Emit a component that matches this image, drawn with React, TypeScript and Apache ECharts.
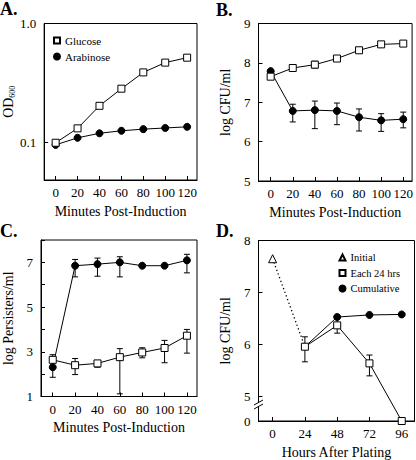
import React, { useEffect, useRef } from "react";
import * as echarts from "echarts";

const FONT = "'Liberation Serif', 'Times New Roman', serif";

// Panels A-C: minutes post-induction
const minutes = [0, 20, 40, 60, 80, 100, 120];
const minuteTicks = [0, 20, 40, 60, 80, 100, 120];

// A: OD600
const odGlucose = [0.1, 0.132, 0.204, 0.284, 0.389, 0.47, 0.517];
const odArabinose = [0.096, 0.11, 0.12, 0.126, 0.13, 0.133, 0.136];
const odTicks = [0.1, 1];

// B: log CFU/ml
const cfuGlucose = [7.65, 7.87, 7.955, 8.11, 8.32, 8.47, 8.49];
const cfuGlucoseLow = [null, null, 7.87, null, null, null, null];
const cfuGlucoseHigh = [null, null, 8.04, null, null, null, null];
const cfuArabinose = [7.79, 6.78, 6.8, 6.78, 6.62, 6.54, 6.57];
const cfuArabinoseLow = [null, 6.5, 6.33, 6.43, 6.27, 6.26, 6.35];
const cfuArabinoseHigh = [null, 6.95, 7.03, 6.98, 6.83, 6.71, 6.75];

// C: log Persisters/ml
const persGlucose = [2.64, 2.4, 2.48, 2.76, 2.97, 3.17, 3.72];
const persGlucoseLow = [null, 1.98, 2.31, 1.12, 2.73, 2.51, 2.94];
const persGlucoseHigh = [null, 2.7, 2.6, 3.14, 3.18, 3.51, 4.0];
const persArabinose = [2.31, 6.85, 6.92, 7.0, 6.85, 6.85, 7.09];
const persArabinoseLow = [1.86, 6.35, 6.38, 6.35, null, null, 6.53];
const persArabinoseHigh = [2.87, 7.13, 7.19, 7.25, null, null, 7.36];

// D: hours after plating
const hours = [24, 48, 72, 96];
const hourTicks = [0, 24, 48, 72, 96];
const initialHour = [0];
const initialValue = [7.65];
const each24 = [5.96, 6.37, 5.64, 0];
const each24Low = [5.67, 6.22, 5.4, null];
const each24High = [6.15, 6.51, 5.8, null];
const cumulative = [5.96, 6.53, 6.57, 6.58];
const dTicks = [0, 5, 6, 7, 8];

// axis break in D: value 0 is drawn at the bottom of the broken axis
const D_BREAK_BOTTOM = 4.533;
const dMap = (v: number) => (v === 0 ? D_BREAK_BOTTOM : v);

const pairs = (xs: number[], ys: (number | null)[]) => xs.map((x, i) => [x, ys[i]]);
const bars = (xs: number[], lo: (number | null)[], hi: (number | null)[], map = (v: number) => v) =>
  xs
    .map((x, i) => (lo[i] == null || hi[i] == null ? null : [x, map(lo[i] as number), map(hi[i] as number)]))
    .filter((d) => d !== null);

const errorRender = (params: any, api: any) => {
  const x = api.value(0);
  const lo = api.coord([x, api.value(1)]);
  const hi = api.coord([x, api.value(2)]);
  const w = 3;
  const style = { stroke: "#000", lineWidth: 1 };
  return {
    type: "group",
    children: [
      { type: "line", shape: { x1: lo[0], y1: lo[1], x2: hi[0], y2: hi[1] }, style },
      { type: "line", shape: { x1: hi[0] - w, y1: hi[1], x2: hi[0] + w, y2: hi[1] }, style },
      { type: "line", shape: { x1: lo[0] - w, y1: lo[1], x2: lo[0] + w, y2: lo[1] }, style },
    ],
  };
};

const errSeries = (idx: number, data: any[]) => ({
  type: "custom",
  xAxisIndex: idx,
  yAxisIndex: idx,
  renderItem: errorRender,
  data,
  encode: { x: 0, y: [1, 2] },
  silent: true,
  z: 1,
});

const squareStyle = { color: "#fff", borderColor: "#000", borderWidth: 1 };
const circleStyle = { color: "#000", borderColor: "#000", borderWidth: 1 };
const lineStyle = { color: "#000", width: 1 };

const lineSeries = (idx: number, name: string, data: any[], square: boolean) => ({
  type: "line",
  name,
  xAxisIndex: idx,
  yAxisIndex: idx,
  data,
  symbol: square ? "rect" : "circle",
  symbolSize: 7,
  itemStyle: square ? squareStyle : circleStyle,
  lineStyle,
  z: 3,
});

const labelStyle = { fontFamily: FONT, fontSize: 13, color: "#000" };
const nameStyle = { fontFamily: FONT, fontSize: 14, color: "#000" };
const axisLine = { onZero: false, lineStyle: { color: "#000", width: 1 } };

const xAxisDef = (idx: number, min: number, max: number, ticks: number[], name: string) => ({
  type: "value",
  gridIndex: idx,
  min,
  max,
  name,
  nameLocation: "middle",
  nameGap: 24,
  nameTextStyle: nameStyle,
  axisLine,
  axisTick: { inside: true, length: 4, customValues: ticks, lineStyle: { color: "#000" } },
  axisLabel: { ...labelStyle, margin: 6, customValues: ticks },
  splitLine: { show: false },
});

export default function App() {
  const ref = useRef<HTMLDivElement>(null);
  useEffect(() => {
    if (!ref.current) return;
    const chart = echarts.init(ref.current, null, { renderer: "svg" });
    const option: any = {
      animation: false,
      backgroundColor: "#fff",
      textStyle: { fontFamily: FONT },
      grid: [
        { left: 40.5, top: 23.5, width: 156.5, height: 156.5, show: true, borderColor: "#000", borderWidth: 1 },
        { left: 258.5, top: 23.5, width: 154.5, height: 157.5, show: true, borderColor: "#000", borderWidth: 1 },
        { left: 40.5, top: 240, width: 156.5, height: 156.5, show: true, borderColor: "#000", borderWidth: 1 },
        { left: 258.5, top: 240.5, width: 156, height: 180.5, show: true, borderColor: "#000", borderWidth: 1 },
      ],
      xAxis: [
        xAxisDef(0, -10.5, 129, minuteTicks, "Minutes Post-Induction"),
        xAxisDef(1, -11, 128, minuteTicks, "Minutes Post-Induction"),
        xAxisDef(2, -10.5, 129, minuteTicks, "Minutes Post-Induction"),
        xAxisDef(3, -10.5, 105.5, hourTicks, "Hours After Plating"),
      ],
      yAxis: [
        {
          type: "log",
          gridIndex: 0,
          logBase: 10,
          min: 0.0487,
          max: 1,
          name: "{a|OD}{b|600}",
          nameLocation: "middle",
          nameGap: 27,
          nameRotate: 90,
          nameTextStyle: {
            ...nameStyle,
            rich: {
              a: { fontFamily: FONT, fontSize: 14, color: "#000", lineHeight: 16 },
              b: { fontFamily: FONT, fontSize: 8, color: "#000", verticalAlign: "bottom", lineHeight: 10, padding: [6, 0, 0, 0] },
            },
          },
          axisLine,
          axisTick: { inside: true, length: 4, customValues: odTicks, lineStyle: { color: "#000" } },
          axisLabel: {
            ...labelStyle,
            margin: 8,
            customValues: odTicks,
            formatter: (v: number) => (Math.abs(v - 1) < 1e-6 ? "1.0" : "0.1"),
          },
          splitLine: { show: false },
          minorTick: { show: false },
        },
        {
          type: "value",
          gridIndex: 1,
          min: 5,
          max: 9,
          interval: 1,
          name: "log CFU/ml",
          nameLocation: "middle",
          nameGap: 26,
          nameTextStyle: nameStyle,
          axisLine,
          axisTick: { inside: true, length: 4, lineStyle: { color: "#000" } },
          axisLabel: { ...labelStyle, margin: 8 },
          splitLine: { show: false },
        },
        {
          type: "value",
          gridIndex: 2,
          min: 1,
          max: 8,
          interval: 1,
          name: "log Persisters/ml",
          nameLocation: "middle",
          nameGap: 26,
          nameTextStyle: nameStyle,
          axisLine,
          axisTick: { inside: true, length: 4, lineStyle: { color: "#000" } },
          axisLabel: {
            ...labelStyle,
            margin: 8,
            formatter: (v: number) => (Math.round(v) % 2 === 1 ? String(v) : ""),
          },
          splitLine: { show: false },
        },
        {
          type: "value",
          gridIndex: 3,
          min: D_BREAK_BOTTOM,
          max: 8,
          name: "log CFU/ml",
          nameLocation: "middle",
          nameGap: 26,
          nameTextStyle: nameStyle,
          axisLine,
          axisTick: { inside: true, length: 4, customValues: dTicks.map(dMap), lineStyle: { color: "#000" } },
          axisLabel: {
            ...labelStyle,
            margin: 8,
            customValues: dTicks.map(dMap),
            formatter: (v: number) => (v < 4.9 ? "0" : String(Math.round(v))),
          },
          splitLine: { show: false },
        },
      ],
      legend: [
        {
          data: [
            { name: "Glucose", icon: "rect" },
            { name: "Arabinose", icon: "circle" },
          ],
          orient: "vertical",
          left: 48,
          top: 30,
          itemWidth: 6,
          itemHeight: 6,
          itemGap: 5,
          textStyle: { fontFamily: FONT, fontSize: 11, color: "#000" },
          selectedMode: false,
        },
        {
          data: [
            { name: "Initial", icon: "triangle" },
            { name: "Each 24 hrs", icon: "rect" },
            { name: "Cumulative", icon: "circle" },
          ],
          orient: "vertical",
          left: 333.5,
          top: 247,
          itemWidth: 6,
          itemHeight: 6,
          itemGap: 4.5,
          textStyle: { fontFamily: FONT, fontSize: 10.5, color: "#000" },
          selectedMode: false,
        },
      ],
      series: [
        // A
        lineSeries(0, "Arabinose", pairs(minutes, odArabinose), false),
        lineSeries(0, "Glucose", pairs(minutes, odGlucose), true),
        // B
        errSeries(1, bars(minutes, cfuArabinoseLow, cfuArabinoseHigh)),
        errSeries(1, bars(minutes, cfuGlucoseLow, cfuGlucoseHigh)),
        lineSeries(1, "Arabinose B", pairs(minutes, cfuArabinose), false),
        lineSeries(1, "Glucose B", pairs(minutes, cfuGlucose), true),
        // C
        errSeries(2, bars(minutes, persArabinoseLow, persArabinoseHigh)),
        errSeries(2, bars(minutes, persGlucoseLow, persGlucoseHigh)),
        lineSeries(2, "Arabinose C", pairs(minutes, persArabinose), false),
        lineSeries(2, "Glucose C", pairs(minutes, persGlucose), true),
        // D
        errSeries(3, bars(hours, each24Low, each24High, dMap)),
        {
          type: "line",
          name: "dotted",
          xAxisIndex: 3,
          yAxisIndex: 3,
          data: [
            [initialHour[0], initialValue[0]],
            [hours[0], each24[0]],
          ],
          symbol: "none",
          lineStyle: { color: "#000", width: 1.3, type: [1.3, 2.6] },
          z: 2,
        },
        {
          ...lineSeries(3, "Cumulative", pairs(hours, cumulative), false),
          data: hours.map((h, i) => (i === 0 ? { value: [h, cumulative[i]], symbol: "none" } : [h, cumulative[i]])),
        },
        lineSeries(3, "Each 24 hrs", hours.map((h, i) => [h, dMap(each24[i])]), true),
        {
          type: "line",
          name: "Initial",
          xAxisIndex: 3,
          yAxisIndex: 3,
          data: pairs(initialHour, initialValue),
          symbol: "triangle",
          symbolSize: 8,
          itemStyle: squareStyle,
          lineStyle,
          z: 3,
        },
      ],
      graphic: [
        { type: "text", left: 0, top: 0, style: { text: "A.", font: `bold 18px ${FONT}`, fill: "#000" } },
        { type: "text", left: 216, top: 1, style: { text: "B.", font: `bold 18px ${FONT}`, fill: "#000" } },
        { type: "text", left: 0, top: 222, style: { text: "C.", font: `bold 18px ${FONT}`, fill: "#000" } },
        { type: "text", left: 216, top: 222, style: { text: "D.", font: `bold 18px ${FONT}`, fill: "#000" } },
        // axis break marks in D
        { type: "rect", shape: { x: 256, y: 403, width: 5, height: 3 }, style: { fill: "#fff" }, z: 10 },
        { type: "line", shape: { x1: 254, y1: 405, x2: 263, y2: 400 }, style: { stroke: "#000", lineWidth: 1 }, z: 11 },
        { type: "line", shape: { x1: 254, y1: 409, x2: 263, y2: 404 }, style: { stroke: "#000", lineWidth: 1 }, z: 11 },
      ],
    };
    chart.setOption(option);
    return () => chart.dispose();
  }, []);
  return <div ref={ref} style={{ position: "absolute", left: 0, top: 0, width: 416, height: 460, background: "#fff" }} />;
}
